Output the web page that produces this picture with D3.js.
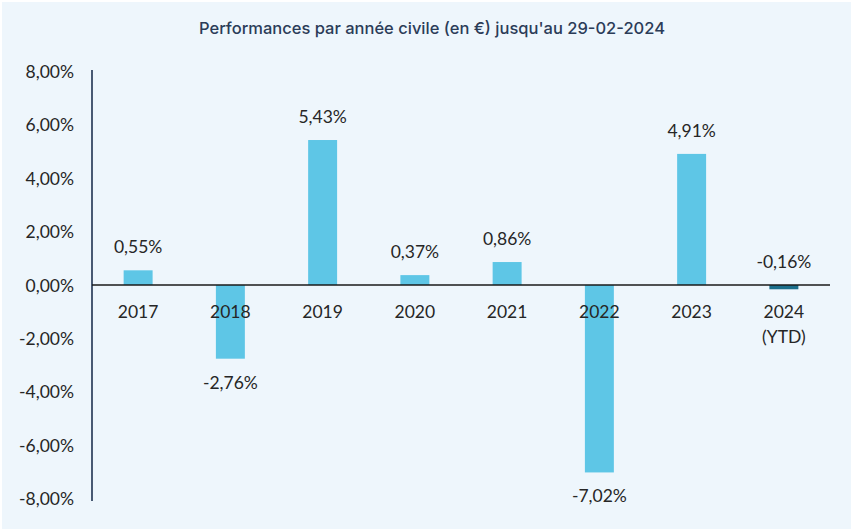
<!DOCTYPE html>
<html><head><meta charset="utf-8">
<script src="https://cdn.jsdelivr.net/npm/d3@7"></script>
<style>
html,body{margin:0;padding:0;background:#fff;}
svg{display:block;}
</style></head>
<body>
<svg id="c" width="851" height="529"></svg>
<script>
const categories = ["2017","2018","2019","2020","2021","2022","2023","2024\n(YTD)"];
const values = [0.55, -2.76, 5.43, 0.37, 0.86, -7.02, 4.91, -0.16];
const barColors = ["#5ec6e6","#5ec6e6","#5ec6e6","#5ec6e6","#5ec6e6","#5ec6e6","#5ec6e6","#1b6f8c"];
const yTicks = [-8, -6, -4, -2, 0, 2, 4, 6, 8];
const title = "Performances par année civile (en €) jusqu'au 29-02-2024";

const svg = d3.select("#c");
const W = 851, H = 529;
const font = "'Lato', 'Open Sans', sans-serif";
svg.append("rect").attr("x",2).attr("y",2).attr("width",W-2).attr("height",H-2).attr("fill","#eef6fc");

const x = d3.scaleBand().domain(categories).range([92, 830]).paddingInner(0.686).paddingOuter(0.343);
const y = d3.scaleLinear().domain([-8, 8]).range([498.6, 71.4]);
const fmt = v => d3.format(".2f")(v).replace(".", ",").replace("\u2212", "-") + "%";

svg.append("text").attr("x", 432).attr("y", 34).attr("text-anchor","middle")
  .attr("font-family", "'Inter', sans-serif").attr("font-size", 16.5).attr("font-weight", 500)
  .attr("fill", "#2b3c58").text(title);

// y axis
const yAxis = d3.axisLeft(y).tickValues(yTicks).tickSize(0).tickPadding(18).tickFormat(fmt);
const ga = svg.append("g").attr("transform","translate(92,0)").call(yAxis);
ga.select(".domain").remove();
ga.selectAll("text").attr("font-family", font).attr("font-size", 17.5).attr("fill","#262626").attr("dy","0.35em");
svg.append("line").attr("x1",92).attr("x2",92).attr("y1",70).attr("y2",501)
  .attr("stroke","#1f3350").attr("stroke-width",1.6);

// bars
svg.selectAll("rect.bar").data(values).join("rect").attr("class","bar")
  .attr("x",(d,i)=>x(categories[i])).attr("width", x.bandwidth())
  .attr("y", d=>y(Math.max(0,d))).attr("height", d=>Math.abs(y(d)-y(0)))
  .attr("fill",(d,i)=>barColors[i]);

// zero line
svg.append("line").attr("x1",92).attr("x2",830).attr("y1",y(0)).attr("y2",y(0))
  .attr("stroke","#1a1a1a").attr("stroke-width",1.6);

// category labels
categories.forEach((c,i)=>{
  const t = svg.append("text").attr("text-anchor","middle").attr("font-family",font)
    .attr("font-size",17.5).attr("fill","#262626");
  c.split("\n").forEach((line,j)=>{
    t.append("tspan").attr("x", x(c)+x.bandwidth()/2).attr("y", 318 + j*25).text(line);
  });
});

// value labels
svg.selectAll("text.val").data(values).join("text").attr("class","val")
  .attr("text-anchor","middle").attr("font-family",font).attr("font-size",17.5).attr("fill","#262626")
  .attr("x",(d,i)=>x(categories[i])+x.bandwidth()/2)
  .attr("y", d => (d >= 0 || d > -0.5) ? y(Math.max(0,d)) - 17 : y(d) + 30)
  .text(fmt);
</script>
</body></html>
